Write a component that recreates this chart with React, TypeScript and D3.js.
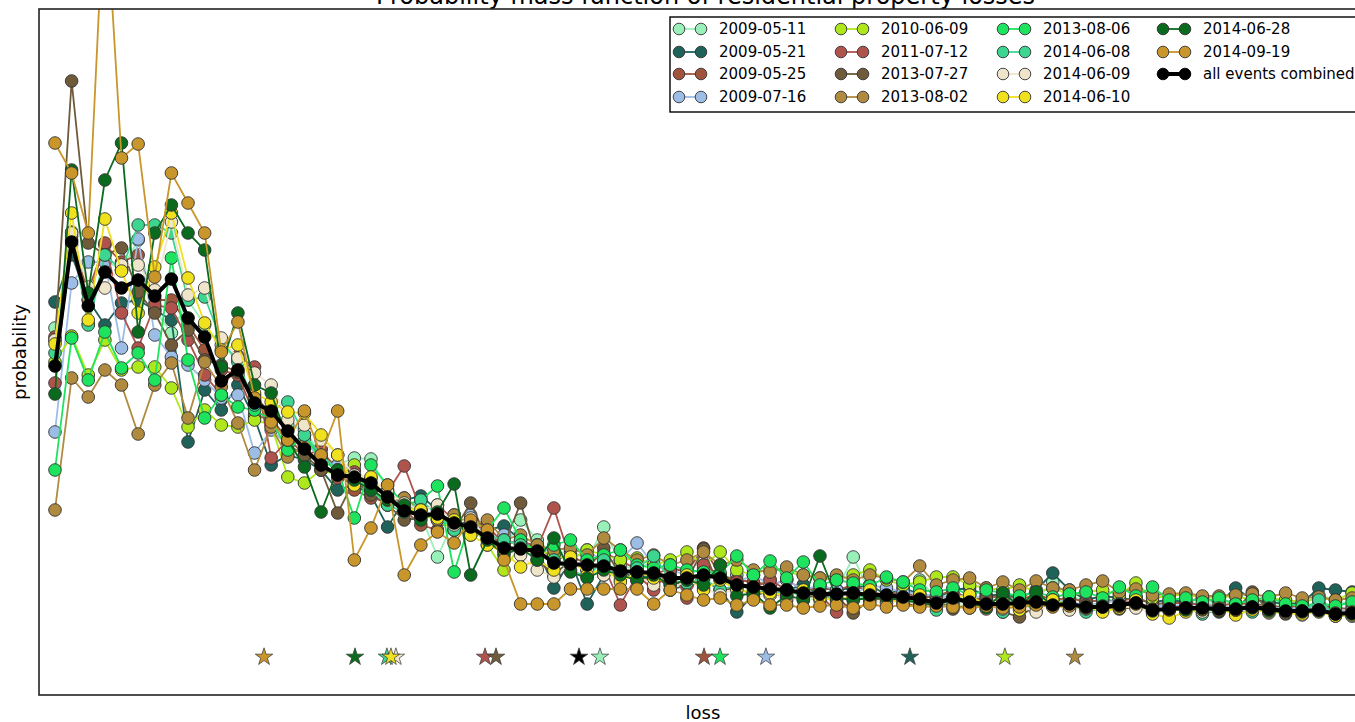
import * as d3 from "d3";

const W = 1355;
const H = 722;
const box = { left: 39, top: 9, right: 1372, bottom: 695 };

const events = [
  "2009-05-11", "2009-05-21", "2009-05-25", "2009-07-16",
  "2010-06-09", "2011-07-12", "2013-07-27", "2013-08-02",
  "2013-08-06", "2014-06-08", "2014-06-09", "2014-06-10",
  "2014-06-28", "2014-09-19",
];
const colors = [
  "#99f0b8", "#1e6259", "#a0543c", "#9bbde6",
  "#aee81c", "#b0534c", "#6f5a3a", "#b08a3e",
  "#1ee35e", "#3dd691", "#efe5cb", "#f0e11e",
  "#0a6b1e", "#c8962a",
];

// probability of each loss bin, in units of 1e-4
const p20090511 = [367,455,371,435,425,455,385,362,395,370,350,335,290,287,270,265,240,230,237,236,205,195,180,138,175,165,160,147,175,155,140,145,135,168,130,125,135,120,113,125,115,120,110,115,105,110,100,105,138,103,100,105,115,97,103,95,99,97,92,95,113,100,93,95,95,97,90,92,95,89,95,91,90,92,87,90,100,95,90];
const p20090521 = [393,440,395,370,392,395,385,375,253,305,285,310,277,230,240,235,225,205,210,200,168,195,199,185,170,175,165,169,155,147,107,135,91,120,125,115,123,105,110,115,105,83,100,107,105,110,100,105,107,110,100,107,101,97,105,107,99,101,97,105,122,105,95,99,97,95,93,95,93,97,92,107,95,93,91,92,107,105,103];
const p20090525 = [358,450,405,450,433,440,395,395,370,345,325,320,280,275,257,240,245,225,205,197,195,185,170,165,180,160,167,145,147,150,135,140,130,142,135,125,120,127,123,147,120,115,113,110,115,105,107,105,110,103,100,103,97,99,105,95,97,99,95,101,95,97,93,95,93,98,91,92,92,90,89,92,91,89,88,89,90,87,86];
const p20090716 = [263,412,433,433,347,456,360,338,330,315,297,300,242,265,250,255,235,230,225,210,190,197,187,175,170,180,155,160,145,150,140,135,145,133,135,152,130,125,120,127,117,113,120,110,115,105,110,105,100,110,107,103,101,99,97,101,95,95,97,92,95,93,90,92,95,91,88,90,89,88,89,87,90,87,87,86,88,84,85];
const p20100609 = [333,359,320,355,325,328,328,307,268,285,270,268,275,270,218,212,225,220,230,205,195,190,180,175,165,170,150,125,150,145,140,135,145,140,135,137,130,135,143,130,143,125,120,127,123,120,117,115,120,125,115,110,113,118,118,110,107,105,110,103,107,100,103,105,100,112,97,99,101,97,98,99,95,97,95,93,97,95,102];
const p20110712 = [312,459,395,452,382,347,390,387,355,320,300,339,328,237,255,250,247,217,223,205,203,229,185,190,175,165,170,150,155,147,187,135,125,130,90,120,105,125,97,130,120,113,107,115,105,103,100,83,95,99,97,95,93,90,97,91,95,89,91,97,89,93,87,85,91,95,85,87,89,85,87,83,86,85,81,83,85,80,81];
const p20130727 = [355,614,452,440,447,403,382,350,365,335,330,323,300,280,250,240,225,182,215,200,190,175,177,183,165,192,155,150,192,135,120,135,125,147,120,115,117,110,115,146,105,107,100,103,95,99,97,99,82,95,97,92,89,95,86,91,97,83,78,90,95,86,89,87,86,88,84,87,85,87,83,85,103,84,83,81,84,79,80];
const p20130802 = [185,317,298,325,310,261,310,332,277,333,308,272,225,268,238,250,230,220,215,207,192,197,185,175,180,170,175,155,160,150,145,147,140,157,145,135,140,130,135,143,130,135,125,123,128,120,117,120,115,120,117,113,129,110,115,117,107,113,105,114,107,105,110,114,103,106,100,101,102,99,99,100,101,98,102,97,98,95,97];
const p20130806 = [225,357,315,363,327,342,315,437,335,277,300,288,285,275,245,260,235,225,177,230,210,190,195,209,123,175,165,187,155,143,150,155,135,140,145,130,127,130,125,123,122,139,120,134,117,133,110,115,112,109,118,113,105,103,107,100,105,102,99,103,98,101,103,97,108,99,108,95,97,93,97,91,95,98,91,89,92,89,93];
const p20140608 = [342,463,370,440,425,470,470,462,395,398,355,333,290,285,293,260,240,225,220,205,190,183,195,180,165,170,160,155,150,140,135,125,118,135,120,127,139,115,112,117,105,110,105,100,105,98,95,100,102,95,99,97,93,85,93,87,90,83,92,85,95,91,83,87,91,89,83,85,87,81,85,84,83,87,82,83,95,79,79];
const p20140609 = [355,462,408,407,430,430,405,473,400,407,357,337,322,310,275,270,255,240,220,217,203,192,185,190,170,177,155,145,140,125,118,130,125,120,115,120,110,105,115,107,100,107,97,100,97,95,98,93,98,95,92,95,89,93,91,90,86,86,89,83,91,85,86,88,89,87,83,84,86,83,85,83,87,82,83,80,84,80,79];
const p20140610 = [351,482,375,476,424,382,428,482,417,372,345,350,302,293,283,282,260,240,210,218,195,187,185,177,175,160,150,143,128,135,125,138,120,127,113,123,117,113,120,105,115,105,103,102,100,105,97,95,99,105,95,93,100,90,97,100,89,93,85,95,95,90,89,83,87,95,81,77,83,85,87,80,85,83,82,81,83,79,80];
const p20140628 = [301,525,402,515,552,363,462,490,462,445,328,382,310,302,255,228,183,225,215,205,195,190,175,183,211,120,155,140,147,135,157,123,117,125,120,115,120,110,115,110,130,99,102,87,100,95,139,97,95,97,97,95,92,90,95,92,87,102,89,103,89,91,87,89,89,92,84,86,85,86,84,85,87,84,83,83,84,81,81];
const p20140919 = [552,522,462,810,537,551,418,522,492,462,343,373,297,273,255,284,240,284,135,167,210,120,150,163,152,175,165,135,91,91,91,106,106,106,106,106,91,105,100,95,97,90,95,90,90,87,89,90,87,91,88,90,88,89,88,87,89,87,88,90,88,89,87,88,89,91,86,85,87,86,85,85,88,86,83,84,85,82,83];
const pCombined = [329,453,389,423,407,415,399,416,377,358,314,325,292,284,264,246,230,220,218,212,198,184,180,181,172,168,157,147,146,144,132,131,130,129,124,123,122,117,117,120,117,110,108,106,105,102,101,101,102,100,100,98,96,92,97,93,91,91,92,93,90,91,88,88,90,92,85,86,87,87,86,86,88,86,84,84,85,81,82];

const series = [
  p20090511, p20090521, p20090525, p20090716, p20100609, p20110712, p20130727,
  p20130802, p20130806, p20140608, p20140609, p20140610, p20140628, p20140919,
];

// mean loss of each event, as a loss-bin position (the stars)
const meanLoss = [32.77, 51.41, 39.03, 42.75, 57.12, 25.86, 26.52, 61.33, 39.99, 19.96, 20.5, 20.2, 18.04, 12.57];
const meanCombined = 31.51;
const starLevel = 38;

const x = d3.scaleLinear().domain([0, 78]).range([55, 1352.1]);
const y = d3.scaleLinear().domain([0, 0.0686]).range([box.bottom, box.top]);
const line = d3.line<number>().x((_, i) => x(i)).y((d) => y(d / 1e4));
const star = d3.symbol().type(d3.symbolStar).size(95);

const legendCols = [674, 836, 998, 1158];
const legendRows = [29, 52, 74, 97];
const font = "'DejaVu Sans', sans-serif";

export default function App() {
  const legendItems = [
    ...events.map((e, i) => ({ label: e, color: colors[i], combined: false })),
    { label: "all events combined", color: "#000", combined: true },
  ];
  return (
    <svg width={W} height={H} style={{ position: "absolute", left: 0, top: 0, background: "#fff" }} fontFamily={font}>
      <defs>
        <clipPath id="plot">
          <rect x={box.left} y={box.top} width={box.right - box.left} height={box.bottom - box.top} />
        </clipPath>
      </defs>
      {/* the title sits partly above the page, as in the original figure */}
      <text x={(box.left + box.right) / 2} y={4} textAnchor="middle" fontSize={24}>
        Probability mass function of residential property losses
      </text>
      <g clipPath="url(#plot)">
        {series.map((s, k) => (
          <g key={events[k]}>
            <path d={line(s) ?? ""} fill="none" stroke={colors[k]} strokeWidth={1.8} />
            {s.map((v, i) => (
              <circle key={i} cx={x(i)} cy={y(v / 1e4)} r={6.3} fill={colors[k]} stroke="#333" strokeWidth={0.9} />
            ))}
          </g>
        ))}
        <path d={line(pCombined) ?? ""} fill="none" stroke="#000" strokeWidth={4} />
        {pCombined.map((v, i) => (
          <circle key={i} cx={x(i)} cy={y(v / 1e4)} r={6.3} fill="#000" stroke="#000" strokeWidth={0.9} />
        ))}
        {meanLoss.map((m, k) => (
          <path key={k} d={star() ?? ""} transform={`translate(${x(m)},${y(starLevel / 1e4)})`} fill={colors[k]} stroke="#333" strokeWidth={0.7} />
        ))}
        <path d={star() ?? ""} transform={`translate(${x(meanCombined)},${y(starLevel / 1e4)})`} fill="#000" stroke="#333" strokeWidth={0.7} />
      </g>
      <rect x={box.left} y={box.top} width={box.right - box.left} height={box.bottom - box.top} fill="none" stroke="#222" strokeWidth={1.6} />
      <text x={703} y={719} textAnchor="middle" fontSize={18}>loss</text>
      <text transform={`translate(26,352) rotate(-90)`} textAnchor="middle" fontSize={18}>probability</text>
      <g>
        <rect x={670} y={17} width={700} height={95} fill="#fff" stroke="#000" strokeWidth={1.4} />
        {legendItems.map((it, i) => {
          const cx = legendCols[Math.floor(i / 4)];
          const cy = legendRows[i % 4];
          return (
            <g key={it.label}>
              <line x1={cx + 5} x2={cx + 27} y1={cy} y2={cy} stroke={it.color} strokeWidth={it.combined ? 4 : 1.8} />
              <circle cx={cx + 5} cy={cy} r={5.8} fill={it.color} stroke={it.combined ? "#000" : "#333"} strokeWidth={0.9} />
              <circle cx={cx + 27} cy={cy} r={5.8} fill={it.color} stroke={it.combined ? "#000" : "#333"} strokeWidth={0.9} />
              <text x={cx + 45} y={cy} dominantBaseline="central" fontSize={15}>{it.label}</text>
            </g>
          );
        })}
      </g>
    </svg>
  );
}
